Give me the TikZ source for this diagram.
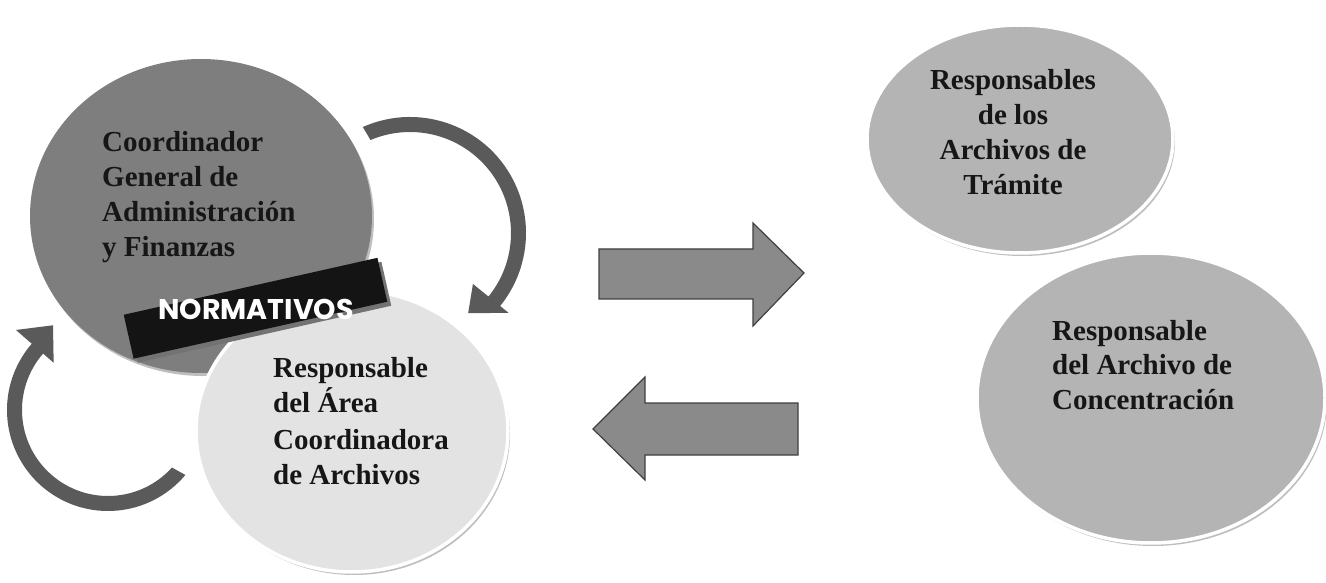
\documentclass[tikz,border=0pt]{standalone}
\usepackage{fontspec}
\setmainfont{Liberation Serif}
\newfontfamily\banfont{Poppins}
\usetikzlibrary{calc,shapes.geometric,shadows}
\definecolor{darkc}{HTML}{7E7E7E}
\definecolor{lightc}{HTML}{E3E3E3}
\definecolor{midc}{HTML}{B4B4B4}
\definecolor{arrc}{HTML}{8A8A8A}
\definecolor{curvc}{HTML}{5A5A5A}
\definecolor{txtc}{HTML}{161616}
\definecolor{shadc}{HTML}{BEBEBE}
\begin{document}
\begin{tikzpicture}[x=1pt,y=1pt,
  bubble/.style={ellipse, inner sep=0pt, drop shadow={shadow xshift=2pt, shadow yshift=-3pt, fill=shadc, opacity=1}},
  rimmed/.style={draw=white, line width=3.5pt},
  lbl/.style={inner sep=0pt, text=txtc, font=\fontsize{29}{35}\selectfont\bfseries},
  flat/.style={fill=arrc, draw=black!75, line width=1.2pt, line join=miter},
  curv/.style={fill=curvc}]
\useasboundingbox (0,0) rectangle (1326,582);
\fill[white] (0,0) rectangle (1326,582);

% circles
\node[bubble, fill=darkc, minimum width=342, minimum height=314] (cgaf) at (201,366) {};
\node[bubble, rimmed, fill=lightc, minimum width=312, minimum height=282] (raca) at (352,151) {};
\node[bubble, rimmed, fill=midc, minimum width=306, minimum height=228] (rat) at (1020,443) {};
\node[bubble, rimmed, fill=midc, minimum width=348, minimum height=290] (rac) at (1151,184) {};

% banner
\node[rotate=12.65, fill=black!92, minimum width=260, minimum height=45, inner sep=0pt,
      drop shadow={shadow xshift=4pt, shadow yshift=-4pt, fill=black!55, opacity=1}] (band) at (255.5,273.75) {};
\node[anchor=base, inner sep=0pt, text=white, font=\banfont\bfseries\fontsize{28.5}{30}\selectfont] (norm) at (256,262) {NORMATIVOS};

% texts
\node[lbl, anchor=base west] (t1) at (102,430) {\begin{tabular}[t]{@{}l@{}}Coordinador\\General de\\Administración\\y Finanzas\end{tabular}};
\node[lbl, anchor=base west, font=\fontsize{29}{36}\selectfont\bfseries] (t2) at (273,205) {\begin{tabular}[t]{@{}l@{}}Responsable\\del Área\\Coordinadora\\de Archivos\end{tabular}};
\node[lbl, anchor=base] (t3) at (1013,492) {\begin{tabular}[t]{@{}c@{}}Responsables\\de los\\Archivos de\\Trámite\end{tabular}};
\node[lbl, anchor=base west] (t4) at (1052,242) {\begin{tabular}[t]{@{}l@{}}Responsable\\del Archivo de\\Concentración\end{tabular}};

% curved arrows
\coordinate (R) at (410,349);
\fill[curv] ($(R)+(114:116)$) arc[start angle=114, end angle=-39, radius=116]
  -- ($(R)+(-39:127)$) -- ($(R)+(-54:99)$) -- ($(R)+(-39:81)$)
  -- ($(R)+(-39:101)$) arc[start angle=-39, end angle=113, radius=101] -- cycle;
\coordinate (L) at (108,172);
\fill[curv] ($(L)+(-40:101)$) arc[start angle=-40, end angle=-221, radius=101]
  -- ($(L)+(-221:122)$) -- ($(L)+(-237:101)$) -- ($(L)+(-221:72)$)
  -- ($(L)+(-221:86)$) arc[start angle=-221, end angle=-42, radius=86] -- cycle;

% straight arrows
\draw[flat] (599,333) -- (753,333) -- (753,359) -- (804,309) -- (753,256) -- (753,283) -- (599,283) -- cycle;
\draw[flat] (798,179) -- (645,179) -- (645,205) -- (593,153) -- (645,102) -- (645,127) -- (798,127) -- cycle;
\end{tikzpicture}
\end{document}
